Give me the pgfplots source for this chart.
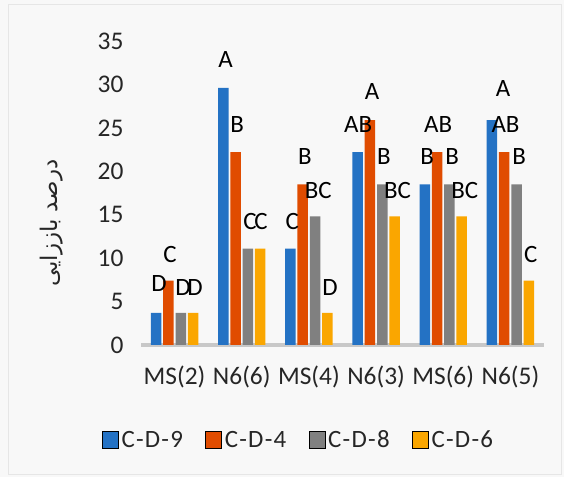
\documentclass[border=0pt]{standalone}
\usepackage{fontspec}
\setmainfont{Carlito}
\newfontfamily\arabicfont[Script=Arabic]{DejaVu Sans}
\newfontfamily\legfont[LetterSpace=5]{Carlito}
\TeXXeTstate=1
\usepackage{pgfplots}
\pgfplotsset{compat=1.18}
\definecolor{cBlue}{RGB}{36,114,196}
\definecolor{cOrange}{RGB}{224,76,0}
\definecolor{cGray}{RGB}{128,128,128}
\definecolor{cYellow}{RGB}{250,166,0}
\definecolor{bgc}{RGB}{248,248,248}
\definecolor{axc}{RGB}{200,200,200}
\definecolor{bordc}{RGB}{230,230,230}
\begin{document}
\begin{tikzpicture}
\fill[bgc] (0bp,0bp) rectangle (564bp,477bp);
\draw[bordc, line width=1bp] (8bp,2.5bp) rectangle (561.5bp,472bp);
\begin{axis}[
  at={(141bp,132bp)}, anchor=south west,
  scale only axis, width=403bp, height=304bp,
  xmin=-0.5, xmax=5.5, ymin=0, ymax=35,
  ytick={0,5,...,35},
  xtick={0,...,5},
  xticklabels={MS(2),N6(6),MS(4),N6(3),MS(6),N6(5)},
  axis x line*=bottom, axis y line*=left,
  y axis line style={draw=none},
  x axis line style={draw=axc, line width=3bp, -},
  major tick length=0pt,
  tick style={draw=none},
  /pgf/number format/assume math mode=true,
  tick label style={font=\fontsize{25.5}{30}\selectfont, text=black!85},
  yticklabel style={xshift=-14bp},
  xticklabel style={yshift=-17bp},
  ylabel={\arabicfont\beginR درصد باززایی\endR},
  ylabel style={at={(axis description cs:-0.222,0.401)}, anchor=center, font=\fontsize{23}{27}\selectfont, text=black!85},
  legend columns=4,
  legend style={draw=none, fill=none, at={(axis description cs:-0.097,-0.3125)}, anchor=west,
    font=\fontsize{25}{30}\legfont, text=black!85, inner sep=0pt,
    nodes={inner sep=3bp},
    /tikz/every even column/.append style={column sep=19.5bp}},
  legend image code/.code={\draw[#1,/tikz/.cd] (0bp,-8.5bp) rectangle (16bp,8.5bp);},
]
\addplot[ybar, bar width=0.156, bar shift=-0.275, fill=cBlue, draw=none]
  coordinates {(0,3.7)(1,29.6)(2,11.1)(3,22.2)(4,18.5)(5,25.9)};
\addplot[ybar, bar width=0.156, bar shift=-0.092, fill=cOrange, draw=none]
  coordinates {(0,7.4)(1,22.2)(2,18.5)(3,25.9)(4,22.2)(5,22.2)};
\addplot[ybar, bar width=0.156, bar shift=0.092, fill=cGray, draw=none]
  coordinates {(0,3.7)(1,11.1)(2,14.8)(3,18.5)(4,18.5)(5,18.5)};
\addplot[ybar, bar width=0.156, bar shift=0.275, fill=cYellow, draw=none]
  coordinates {(0,3.7)(1,11.1)(2,3.7)(3,14.8)(4,14.8)(5,7.4)};
\legend{C-D-9,C-D-4,C-D-8,C-D-6}
\addplot[forget plot, draw=none, mark=none,
  nodes near coords, point meta=explicit symbolic,
  nodes near coords style={anchor=center, font=\fontsize{25}{30}\selectfont, text=black, inner sep=0pt}]
  table[meta=lab] {
x y lab
-0.232 7.1 D
-0.068 10.4 C
0.125 6.6 D
0.304 6.6 D
0.760 32.9 A
0.933 25.4 B
1.122 14.2 C
1.286 14.2 C
1.752 14.2 C
1.940 21.7 B
2.139 17.8 BC
2.313 6.6 D
2.734 25.4 AB
2.942 29.2 A
3.116 21.7 B
3.320 17.8 BC
3.760 21.7 B
3.924 25.4 AB
4.133 21.7 B
4.321 17.8 BC
4.891 29.5 A
4.927 25.4 AB
5.130 21.7 B
5.304 10.4 C
};
\end{axis}
\pgfresetboundingbox
\path[use as bounding box] (0bp,0bp) rectangle (564bp,477bp);
\end{tikzpicture}
\end{document}
